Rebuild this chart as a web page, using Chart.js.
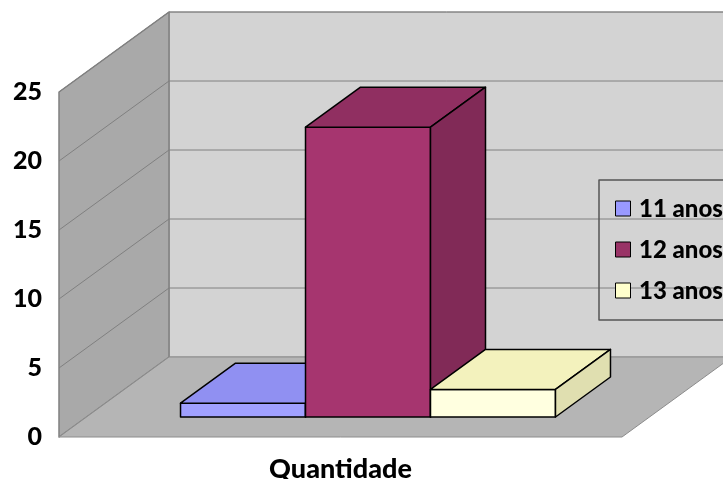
<!DOCTYPE html>
<html>
<head>
<meta charset="utf-8">
<title>Quantidade</title>
<script src="https://cdn.jsdelivr.net/npm/chart.js@4"></script>
<style>
html, body { margin: 0; padding: 0; background: #fff; overflow: hidden; }
#box { width: 723px; height: 479px; }
</style>
</head>
<body>
<div id="box"><canvas id="grafico"></canvas></div>
<script>
const categorias = ['Quantidade'];
const faixas = ['11 anos', '12 anos', '13 anos'];
const valores11 = [1];
const valores12 = [21];
const valores13 = [2];
const ticksY = [0, 5, 10, 15, 20, 25];

// cores de cada caixa: frente, topo, lado
const cores = [
    { frente: '#a0a0ff', topo: '#9090f2', lado: '#8080d8', legenda: '#9999ff' },
    { frente: '#a6356f', topo: '#902f61', lado: '#812a57', legenda: '#993366' },
    { frente: '#ffffe0', topo: '#f3f2bd', lado: '#e0dfb0', legenda: '#ffffcc' }
];

// projeção do fundo do gráfico
const fundoX = 110, fundoY = -80;
// as barras ficam no meio do piso
const recuoX = 27.5, recuoY = -20;
const caixaX = 55, caixaY = -40;

function poligono(ctx, pontos, cor, borda, largura) {
    ctx.beginPath();
    pontos.forEach((p, i) => i ? ctx.lineTo(p[0], p[1]) : ctx.moveTo(p[0], p[1]));
    ctx.closePath();
    ctx.fillStyle = cor;
    ctx.fill();
    ctx.strokeStyle = borda;
    ctx.lineWidth = largura;
    ctx.lineJoin = 'round';
    ctx.stroke();
}

const paredes3d = {
    id: 'paredes3d',
    beforeDatasetsDraw(chart) {
        const ctx = chart.ctx;
        const { left, right, top, bottom } = chart.chartArea;

        // parede do fundo, parede lateral e piso
        poligono(ctx, [[left + fundoX, top + fundoY], [right + fundoX, top + fundoY], [right + fundoX, bottom + fundoY], [left + fundoX, bottom + fundoY]], '#d3d3d3', '#8c8c8c', 1);
        poligono(ctx, [[left, top], [left + fundoX, top + fundoY], [left + fundoX, bottom + fundoY], [left, bottom]], '#a9a9a9', '#808080', 1.5);
        poligono(ctx, [[left, bottom], [right, bottom], [right + fundoX, bottom + fundoY], [left + fundoX, bottom + fundoY]], '#b5b5b5', '#8c8c8c', 1);

        // linhas de grade
        ctx.strokeStyle = '#808080';
        ctx.lineWidth = 1;
        chart.scales.y.ticks.forEach(t => {
            if (t.value === 0) return;
            const y = chart.scales.y.getPixelForValue(t.value);
            ctx.beginPath();
            ctx.moveTo(left, y);
            ctx.lineTo(left + fundoX, y + fundoY);
            ctx.lineTo(right + fundoX, y + fundoY);
            ctx.stroke();
        });

        // o Chart.js desenha do último para o primeiro; aqui precisa ser da esquerda para a direita
        ctx.save();
        ctx.translate(recuoX, recuoY);
        chart.getSortedVisibleDatasetMetas().forEach(meta => {
            meta.controller.draw();
            const cor = cores[meta.index];
            meta.data.forEach(barra => {
                const p = barra.getProps(['x', 'y', 'base', 'width'], true);
                const esq = p.x - p.width / 2, dir = p.x + p.width / 2;
                // contorno da frente centrado na aresta, assim barras vizinhas dividem a mesma linha
                ctx.strokeStyle = '#000';
                ctx.lineWidth = 1.5;
                ctx.strokeRect(esq, p.y, p.width, p.base - p.y);
                poligono(ctx, [[esq, p.y], [dir, p.y], [dir + caixaX, p.y + caixaY], [esq + caixaX, p.y + caixaY]], cor.topo, '#000', 1.5);
                poligono(ctx, [[dir, p.y], [dir + caixaX, p.y + caixaY], [dir + caixaX, p.base + caixaY], [dir, p.base]], cor.lado, '#000', 1.5);
            });
        });
        ctx.restore();
        return false;
    },
    afterDraw(chart) {
        // legenda fica cortada pela borda direita, igual ao original
        const ctx = chart.ctx;
        ctx.save();
        ctx.strokeStyle = '#555555';
        ctx.lineWidth = 1.5;
        ctx.strokeRect(599, 180, 140, 140);
        ctx.font = '900 24px Lato';
        ctx.textBaseline = 'middle';
        chart.data.datasets.forEach((ds, i) => {
            const y = 201 + i * 41;
            ctx.fillStyle = cores[i].legenda;
            ctx.fillRect(615.5, y, 15, 15);
            ctx.strokeStyle = '#000';
            ctx.lineWidth = 1;
            ctx.strokeRect(615.5, y, 15, 15);
            ctx.fillStyle = '#000';
            ctx.fillText(ds.label, 639, y + 8.5);
        });
        ctx.restore();
    }
};

new Chart(document.getElementById('grafico'), {
    type: 'bar',
    data: {
        labels: categorias,
        datasets: [
            { label: faixas[0], data: valores11, backgroundColor: cores[0].frente },
            { label: faixas[1], data: valores12, backgroundColor: cores[1].frente },
            { label: faixas[2], data: valores13, backgroundColor: cores[2].frente }
        ]
    },
    options: {
        responsive: true,
        maintainAspectRatio: false,
        animation: false,
        clip: false,
        layout: { padding: { left: 0, right: 101, top: 92, bottom: 0 } },
        categoryPercentage: 0.666,
        barPercentage: 1,
        borderWidth: 0,
        plugins: { legend: { display: false }, tooltip: { enabled: false } },
        scales: {
            x: {
                grid: { display: false },
                border: { display: false },
                ticks: { color: '#000', font: { family: 'Lato', size: 27, weight: '900' }, padding: 8, maxRotation: 0 },
                afterFit(escala) { escala.height = 42; }
            },
            y: {
                min: 0,
                max: 25,
                afterBuildTicks(escala) { escala.ticks = ticksY.map(v => ({ value: v })); },
                grid: { display: false },
                border: { display: false },
                ticks: { color: '#000', font: { family: 'Lato', size: 25, weight: '900' }, padding: 9 },
                afterFit(escala) { escala.width = 59; }
            }
        }
    },
    plugins: [paredes3d]
});
</script>
</body>
</html>
